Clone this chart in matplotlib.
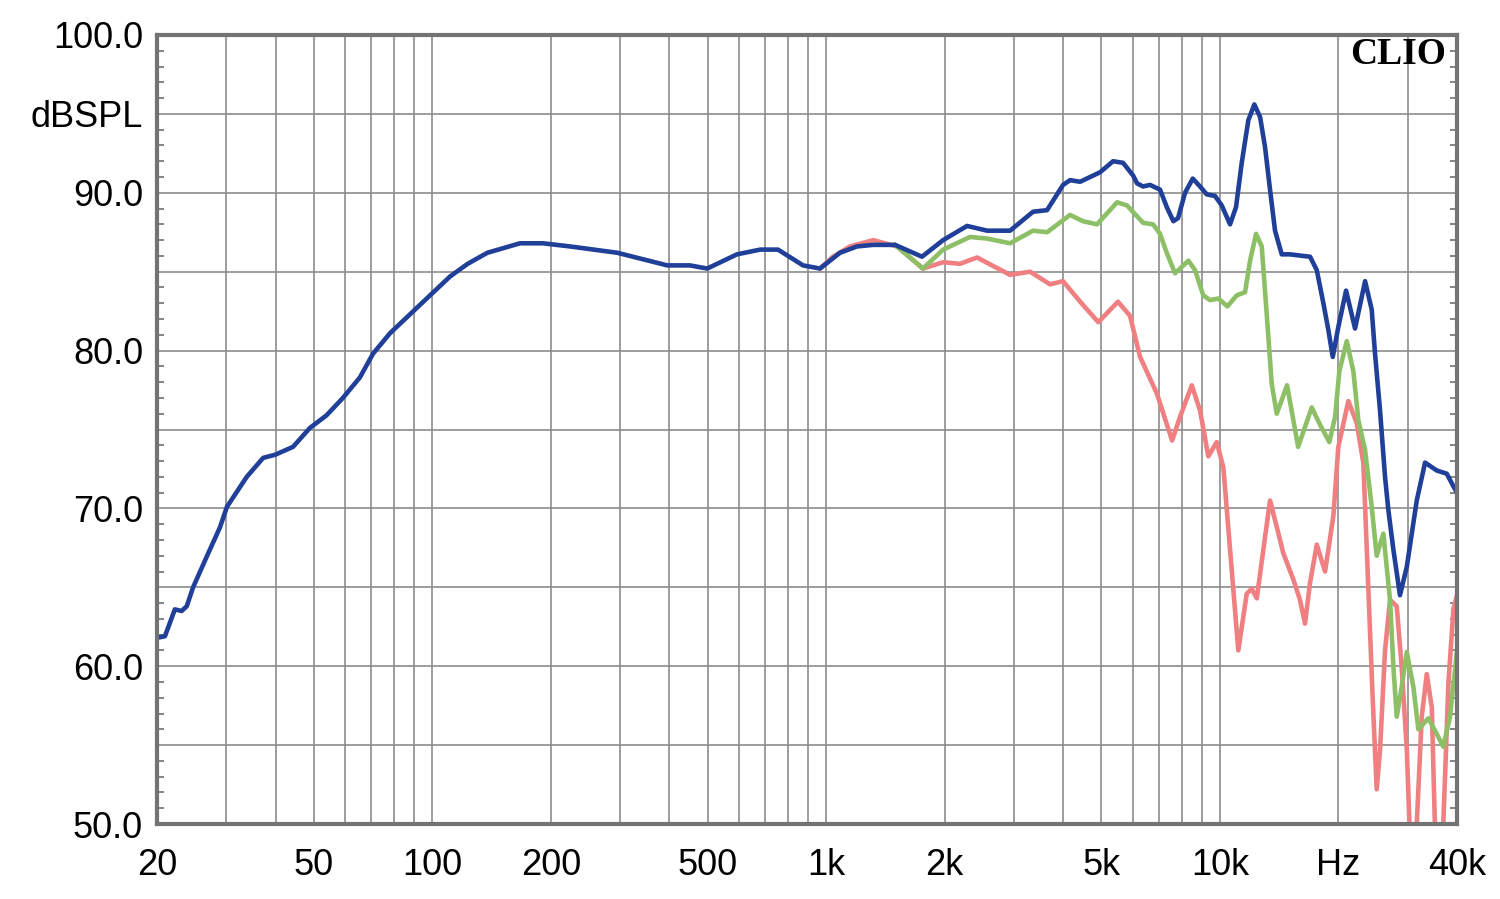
import matplotlib
matplotlib.use("Agg")
import matplotlib.pyplot as plt
from matplotlib.ticker import FixedLocator, NullLocator

# ---------------- data ----------------
blue_f = [20, 20.95, 22.2, 23.1, 23.8, 24.7, 26.7, 28.9, 30.1, 33.8, 37.2, 39.9, 44.3, 48.9,
          53.9, 59.3, 65.5, 70.7, 78.1, 87.8, 98.7, 111, 123, 138, 167, 191, 224, 295, 395,
          451, 499, 594, 680, 755, 874, 965, 1085, 1198, 1316, 1497, 1752, 1982, 2280, 2564,
          2932, 3354, 3640, 3997, 4164, 4417, 4962, 5354, 5676, 6018, 6160, 6380, 6646, 7048,
          7328, 7618, 7830, 8156, 8532, 8904, 9260, 9720, 10108, 10612, 10990, 11362, 11810,
          12230, 12650, 13020, 13406, 13804, 14356, 15072, 16262, 16942, 17620, 18314, 18856,
          19344, 19986, 20910, 22036, 23370, 24294, 24770, 25506, 26262, 26776, 27570, 28660,
          29826, 31612, 33188, 35540, 37680, 39168, 40000]
blue_db = [61.8, 61.9, 63.6, 63.5, 63.8, 65.0, 66.9, 68.8, 70.1, 72.0, 73.2, 73.4, 73.9, 75.1,
           75.9, 77.0, 78.3, 79.8, 81.1, 82.3, 83.5, 84.7, 85.5, 86.2, 86.8, 86.8, 86.6, 86.2, 85.4,
           85.4, 85.2, 86.1, 86.4, 86.4, 85.4, 85.2, 86.2, 86.6, 86.7, 86.7, 85.95, 87.0, 87.9, 87.6,
           87.6, 88.8, 88.9, 90.5, 90.8, 90.7, 91.3, 92.0, 91.9, 91.1, 90.6, 90.4, 90.5, 90.2,
           89.1, 88.2, 88.4, 90.0, 90.9, 90.4, 89.9, 89.8, 89.2, 88.0, 89.1, 91.9, 94.6,
           95.6, 94.8, 92.9, 90.2, 87.6, 86.1, 86.1, 86.0, 85.95, 85.1, 83.0, 81.3,
           79.6, 81.5, 83.8, 81.4, 84.4, 82.6, 79.8, 76.2, 72.0, 69.9, 67.4, 64.5,
           66.3, 70.5, 72.9, 72.4, 72.2, 71.4, 71.0]

green_f = [1497, 1762, 1982, 2320, 2564, 2932, 3354, 3640, 4164, 4492, 4876, 5482, 5810, 6380,
           6764, 7048, 7328, 7692, 8000, 8316, 8646, 9074, 9442, 9910, 10446, 11034, 11584,
           11930, 12356, 12772, 13150, 13540, 13942, 14810, 15800, 17110, 17960, 18964, 19608,
           20106, 20996, 21820, 22466, 23370, 24294, 25014, 26004, 27040, 27570, 28120, 28956,
           29826, 30990, 31910, 33836, 35540, 36926, 38404, 39168, 39560, 40000]
green_db = [86.7, 85.2, 86.4, 87.2, 87.1, 86.8, 87.6, 87.5, 88.6, 88.2, 88.0, 89.4, 89.2, 88.1,
            88.0, 87.4, 86.2, 84.9, 85.3, 85.7, 85.1, 83.5, 83.2, 83.3, 82.8, 83.5, 83.7,
            85.7, 87.4, 86.6, 82.3, 77.9, 76.0, 77.8, 73.9, 76.4, 75.3, 74.2, 75.8,
            78.7, 80.6, 78.7, 75.6, 73.7, 70.1, 67.0, 68.4, 64.2, 60.0, 56.8, 58.7,
            60.9, 58.7, 56.0, 56.7, 55.7, 54.9, 56.8, 58.9, 59.8, 61.0]

red_f = [965, 1041, 1150, 1316, 1514, 1762, 1982, 2188, 2418, 2932, 3296, 3704, 3997, 4417, 4912,
         5510, 5914, 6270, 6912, 7562, 7922, 8484, 8904, 9346, 9816, 10204, 10612, 11136, 11700,
         12048, 12406, 12894, 13406, 14216, 14470, 15360, 15974, 16448, 16942, 17620, 18494,
         19410, 19986, 21190, 22258, 23130, 23370, 24440, 25014, 25506, 26262, 27040, 28120,
         28956, 29826, 30394, 30936, 31612, 32554, 33520, 34514, 35188, 36010, 36926, 38036,
         39168, 40000]
red_db = [85.2, 85.95, 86.6, 87.0, 86.6, 85.2, 85.6, 85.5, 85.9, 84.8, 85.0, 84.2, 84.4, 83.1, 81.8,
          83.1, 82.2, 79.6, 77.3, 74.3, 75.8, 77.8, 76.2, 73.3, 74.2, 72.6, 67.4, 61.0, 64.6,
          64.9, 64.3, 67.4, 70.5, 68.0, 67.2, 65.5, 64.2, 62.7, 65.3, 67.7, 66.0,
          69.5, 73.9, 76.8, 75.4, 72.9, 70.1, 57.9, 52.2, 54.7, 61.0, 64.2, 63.8,
          59.9, 54.7, 49.0, 46.5, 50.0, 56.8, 59.5, 57.4, 49.5, 46.5, 50.0, 58.9,
          63.6, 64.5]

xtick_vals = [20, 50, 100, 200, 500, 1000, 2000, 5000, 10000, 20000, 40000]
xtick_labels = ['20', '50', '100', '200', '500', '1k', '2k', '5k', '10k', 'Hz', '40k']
ytick_vals = [50, 60, 70, 80, 90, 95, 100]
ytick_labels = ['50.0', '60.0', '70.0', '80.0', '90.0', 'dBSPL', '100.0']

# ---------------- figure ----------------
plt.rcParams['font.family'] = ['Liberation Sans', 'DejaVu Sans']
fig = plt.figure(figsize=(15, 8.99), dpi=100)
ax = fig.add_axes([157/1500, 1 - 824/899, 1300/1500, 789/899])
ax.set_xscale('log')
ax.set_xlim(20, 40000)
ax.set_ylim(50, 100)

grid_c = '#8c8c8c'
vgrid = []
for dec in [10, 100, 1000, 10000]:
    for m in range(1, 10):
        v = dec * m
        if 20 < v < 40000:
            vgrid.append(v)
for v in vgrid:
    ax.axvline(v, color=grid_c, lw=1.2, zorder=1)
for h in range(55, 100, 5):
    ax.axhline(h, color=grid_c, lw=1.2, zorder=1)

lw = 3.3
ax.plot(red_f, red_db, color='#ef7f80', lw=lw, zorder=3, solid_joinstyle='round')
ax.plot(green_f, green_db, color='#8dc066', lw=lw, zorder=4, solid_joinstyle='round')
ax.plot(blue_f, blue_db, color='#1f3f99', lw=lw, zorder=5, solid_joinstyle='round')

ax.xaxis.set_major_locator(FixedLocator(xtick_vals))
ax.set_xticklabels(xtick_labels)
ax.xaxis.set_minor_locator(NullLocator())
ax.tick_params(axis='x', which='major', length=0, pad=17, labelsize=26)

ax.yaxis.set_major_locator(FixedLocator(ytick_vals))
ax.set_yticklabels(ytick_labels)
ax.yaxis.set_minor_locator(FixedLocator([v for v in range(51, 100) if v % 5 != 0]))
ax.tick_params(axis='y', which='major', length=0, pad=10, labelsize=26)
ax.tick_params(axis='y', which='minor', direction='in', length=5, width=1.2,
               color='#707070', left=True, right=True)

for s in ax.spines.values():
    s.set_color('#737373')
    s.set_linewidth(3)
    s.set_zorder(6)

ax.text(0.9915, 0.997, 'CLIO', transform=ax.transAxes, ha='right', va='top',
        fontsize=27, fontweight='bold', family=['Liberation Serif', 'DejaVu Serif'],
        color='black', zorder=7)

fig.savefig('out.png', dpi=100)
